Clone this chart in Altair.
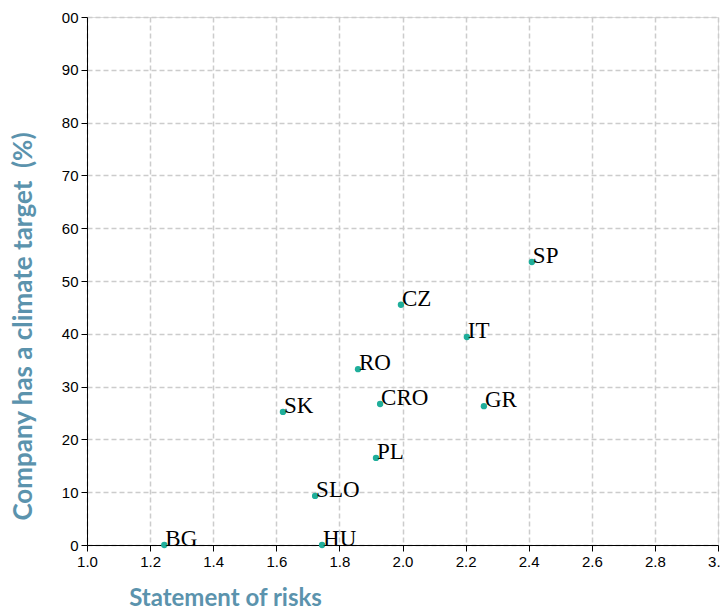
import altair as alt
import pandas as pd

countries = ["BG", "HU", "SLO", "PL", "SK", "CRO", "GR", "RO", "IT", "CZ", "SP"]
risks = [1.245, 1.745, 1.723, 1.916, 1.621, 1.929, 2.258, 1.859, 2.204, 1.995, 2.41]
target = [0.0, 0.0, 9.3, 16.5, 25.2, 26.7, 26.3, 33.3, 39.4, 45.5, 53.6]

x_ticks = [1.0, 1.2, 1.4, 1.6, 1.8, 2.0, 2.2, 2.4, 2.6, 2.8, 3.0]
y_ticks = [0, 10, 20, 30, 40, 50, 60, 70, 80, 90, 100]

df = pd.DataFrame({"country": countries, "risks": risks, "target": target})

title_color = "#5b93ad"
dot_color = "#1fae9b"

common_axis = dict(
    labelFont="Liberation Sans",
    labelFontSize=15,
    labelColor="#000",
    labelPadding=3,
    labelFlush=False,
    tickSize=6,
    tickColor="#000",
    domainColor="#000",
    gridColor="#cccccc",
    gridDash=[5, 3],
    gridWidth=1.5,
    labelOverlap=False,
    titleFont="Lato",
    titleFontWeight="bold",
    titleColor=title_color,
    titleAlign="center",
)

x_enc = alt.X(
    "risks:Q",
    scale=alt.Scale(domain=[1.0, 3.0], nice=False, zero=False),
    axis=alt.Axis(
        values=x_ticks,
        format=".1f",
        title="Statement of risks",
        titleFontSize=24,
        titleX=138,
        titleY=60,
        titleBaseline="alphabetic",
        **common_axis,
    ),
)

y_enc = alt.Y(
    "target:Q",
    scale=alt.Scale(domain=[0, 100], nice=False),
    axis=alt.Axis(
        values=y_ticks,
        labelExpr="datum.value == 100 ? '00' : datum.label",
        title="Company has a climate target\u00a0\u00a0(%)",
        titleFontSize=26,
        titleAngle=-90,
        titleX=-64,
        titleY=309,
        titleBaseline="middle",
        **common_axis,
    ),
)

points = alt.Chart(df).mark_circle(size=40, color=dot_color, opacity=1).encode(x=x_enc, y=y_enc)

labels = alt.Chart(df).mark_text(
    align="left", baseline="alphabetic", dx=1, dy=1,
    font="Liberation Serif", fontSize=23, color="#000"
).encode(x="risks:Q", y="target:Q", text="country:N")

chart = (
    alt.layer(points, labels)
    .properties(width=631, height=528, padding={"left": 79, "top": 9, "right": 2, "bottom": 70})
    .configure_view(stroke=None)
    .configure(autosize=alt.AutoSizeParams(type="none"))
)

chart.save("out.html", embed_options={"renderer": "svg", "actions": False})
